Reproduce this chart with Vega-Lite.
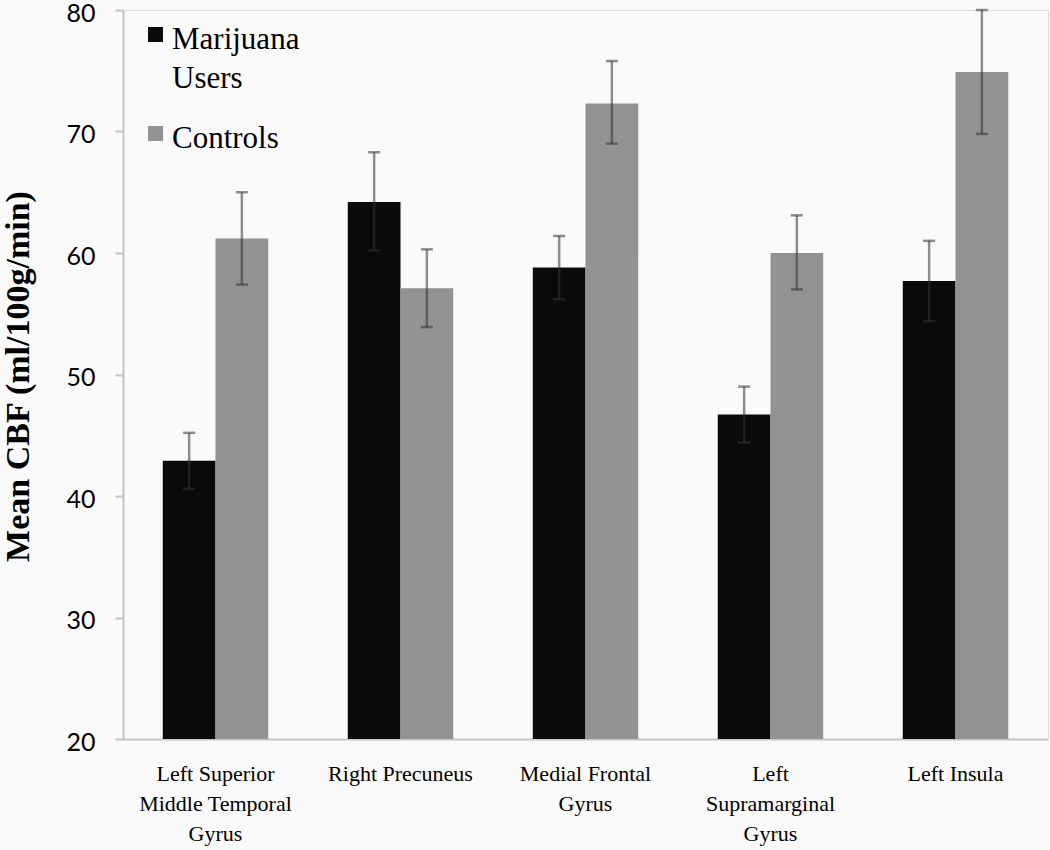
{
  "$schema": "https://vega.github.io/schema/vega-lite/v6.json",
  "width": 925,
  "height": 729,
  "autosize": {"type": "none"},
  "padding": {"left": 123, "top": 10, "right": 2, "bottom": 111},
  "background": "#fafafa",
  "config": {"style": {"guide-label": {"lineHeight": 39}}},
  "data": {
    "values": [
      {"region": "Left Superior|Middle Temporal|Gyrus", "group": "Marijuana Users", "mean": 42.9, "lo": 40.6, "hi": 45.2},
      {"region": "Left Superior|Middle Temporal|Gyrus", "group": "Controls", "mean": 61.2, "lo": 57.4, "hi": 65.0},
      {"region": "Right Precuneus", "group": "Marijuana Users", "mean": 64.2, "lo": 60.2, "hi": 68.3},
      {"region": "Right Precuneus", "group": "Controls", "mean": 57.1, "lo": 53.9, "hi": 60.3},
      {"region": "Medial Frontal|Gyrus", "group": "Marijuana Users", "mean": 58.8, "lo": 56.2, "hi": 61.4},
      {"region": "Medial Frontal|Gyrus", "group": "Controls", "mean": 72.3, "lo": 69.0, "hi": 75.8},
      {"region": "Left|Supramarginal|Gyrus", "group": "Marijuana Users", "mean": 46.7, "lo": 44.4, "hi": 49.0},
      {"region": "Left|Supramarginal|Gyrus", "group": "Controls", "mean": 60.0, "lo": 57.0, "hi": 63.1},
      {"region": "Left Insula", "group": "Marijuana Users", "mean": 57.7, "lo": 54.4, "hi": 61.0},
      {"region": "Left Insula", "group": "Controls", "mean": 74.9, "lo": 69.8, "hi": 80.0}
    ]
  },
  "encoding": {
    "x": {
      "field": "region",
      "type": "nominal",
      "sort": null,
      "scale": {"paddingInner": 0.43, "paddingOuter": 0.215},
      "axis": {
        "title": null,
        "labelAngle": 0,
        "labelExpr": "split(datum.label, '|')",
        "labelFont": "Liberation Serif",
        "labelFontSize": 22,
        "labelLineHeight": 30,
        "labelColor": "#000000",
        "labelBaseline": "top",
        "labelPadding": 24,
        "ticks": false,
        "domainColor": "#c4c4c4",
        "domainWidth": 2,
        "labelLimit": 0
      }
    },
    "xOffset": {"field": "group", "type": "nominal", "sort": ["Marijuana Users", "Controls"], "scale": {"paddingInner": 0, "paddingOuter": 0}}
  },
  "layer": [
    {
      "mark": {"type": "bar", "clip": true},
      "encoding": {
        "y": {
          "field": "mean",
          "type": "quantitative",
          "scale": {"domain": [20, 80], "zero": false, "nice": false},
          "axis": {
            "title": "Mean CBF (ml/100g/min)",
            "titleFont": "Liberation Serif",
            "titleFontWeight": "bold",
            "titleFontSize": 34,
            "titleColor": "#000000",
            "titleX": -122,
            "titleY": 366,
            "titleBaseline": "top",
            "titleAlign": "center",
            "titleAngle": -90,
            "values": [20, 30, 40, 50, 60, 70, 80],
            "labelFont": "Lato",
            "labelFontSize": 25,
            "labelColor": "#000000",
            "labelPadding": 20,
            "labelOffset": 3,
            "labelLineHeight": 25,
            "tickSize": 8,
            "tickColor": "#c4c4c4",
            "tickWidth": 2,
            "domainColor": "#c4c4c4",
            "domainWidth": 2,
            "grid": false
          }
        },
        "y2": {"datum": 20},
        "color": {
          "field": "group",
          "type": "nominal",
          "scale": {"domain": ["Marijuana Users", "Controls"], "range": ["#0a0a0a", "#939393"]},
          "legend": {
            "title": null,
            "orient": "none",
            "legendX": 17,
            "legendY": -1,
            "symbolType": "M-1,0.33H1V2.33H-1Z",
            "symbolSize": 225,
            "symbolStrokeWidth": 0,
            "labelFont": "Liberation Serif",
            "labelFontSize": 31,
            "labelColor": "#000000",
            "labelOffset": 1,
            "labelBaseline": "top",
            "labelExpr": "datum.label == 'Marijuana Users' ? ['Marijuana', 'Users'] : datum.label",
            "labelLimit": 0,
            "rowPadding": 14
          }
        }
      }
    },
    {
      "mark": {"type": "rule", "color": "#333333", "opacity": 0.55, "strokeWidth": 2.5},
      "encoding": {
        "y": {"field": "lo", "type": "quantitative"},
        "y2": {"field": "hi"}
      }
    },
    {
      "mark": {"type": "tick", "color": "#333333", "opacity": 0.55, "size": 12, "thickness": 2.5},
      "encoding": {"y": {"field": "hi", "type": "quantitative"}}
    },
    {
      "mark": {"type": "tick", "color": "#333333", "opacity": 0.55, "size": 12, "thickness": 2.5},
      "encoding": {"y": {"field": "lo", "type": "quantitative"}}
    }
  ]
}
